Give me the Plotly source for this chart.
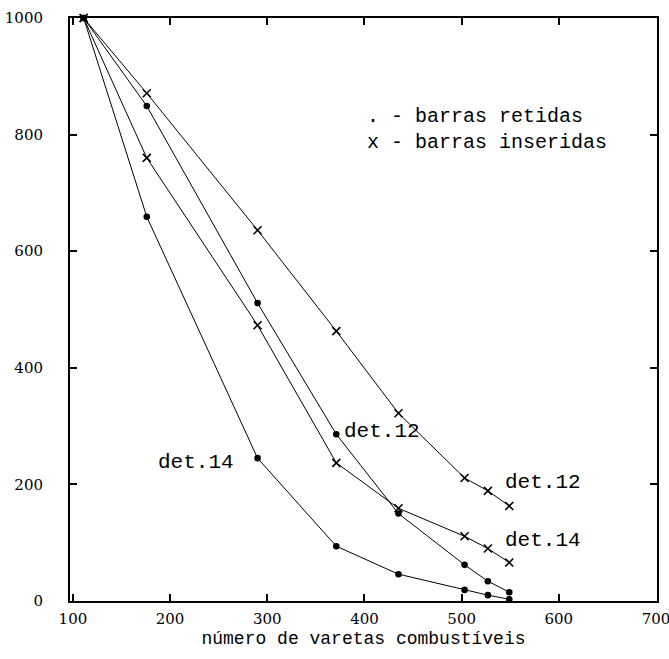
import plotly.graph_objects as go

# x: número de varetas combustíveis
x_vals = [111, 176, 290, 371, 435, 503, 527, 549]

det12_inseridas = [1000, 871, 636, 463, 322, 211, 189, 163]
det12_retidas = [1000, 849, 511, 286, 150, 62, 34, 15]
det14_inseridas = [1000, 760, 473, 237, 159, 111, 90, 66]
det14_retidas = [1000, 659, 245, 94, 46, 19, 10, 3]

x_ticks = [100, 200, 300, 400, 500, 600, 700]
y_ticks = [0, 200, 400, 600, 800, 1000]

mono = "Liberation Mono"
serif = "DejaVu Serif"

fig = go.Figure()

def add(y, sym, size, name):
    fig.add_trace(go.Scatter(
        x=x_vals, y=y, mode="lines+markers", name=name,
        line=dict(color="black", width=1),
        marker=dict(symbol=sym, size=size, color="black",
                    line=dict(color="black", width=1.6)),
        cliponaxis=False, showlegend=False))

add(det12_inseridas, "x-thin", 8, "det.12 inseridas")
add(det12_retidas, "circle", 5, "det.12 retidas")
add(det14_inseridas, "x-thin", 8, "det.14 inseridas")
add(det14_retidas, "circle", 5, "det.14 retidas")

ann = [
    dict(x=227, y=238, text="det.14"),
    dict(x=418, y=290, text="det.12"),
    dict(x=584, y=204, text="det.12"),
    dict(x=584, y=104, text="det.14"),
]
for a in ann:
    fig.add_annotation(x=a["x"], y=a["y"], text=a["text"], showarrow=False,
                       font=dict(family=mono, size=21, color="black"))

fig.add_annotation(xref="x", yref="y", x=401, y=808, xanchor="left", yanchor="middle",
                   align="left",
                   text=". - barras retidas<br>x - barras inseridas", showarrow=False,
                   font=dict(family=mono, size=20, color="black"))

axis_common = dict(showgrid=False, zeroline=False, showline=True, linecolor="black",
                   linewidth=2, mirror="ticks", ticks="inside", ticklen=7,
                   tickcolor="black", tickwidth=1.5, automargin=False,
                   ticklabeloverflow="allow",
                   tickfont=dict(family=serif, size=15, color="black"))

fig.update_xaxes(range=[97, 701], tickvals=x_ticks, ticktext=[str(t) for t in x_ticks],
                 ticklabelstandoff=3,
                 title=dict(text="número de varetas combustíveis",
                            font=dict(family=mono, size=18, color="black"), standoff=4),
                 **axis_common)
fig.update_yaxes(range=[0, 1000], tickvals=y_ticks, ticktext=[str(t) for t in y_ticks],
                 ticklabelstandoff=22, **axis_common)

fig.update_layout(width=669, height=659, plot_bgcolor="white", paper_bgcolor="white",
                  margin=dict(l=70, r=12, t=18, b=58), hovermode=False)

# remove the page's default 8px body margin so the figure fills the window
fig.write_html("out.html", config={"displayModeBar": False},
               post_script="document.body.style.margin='0';")
